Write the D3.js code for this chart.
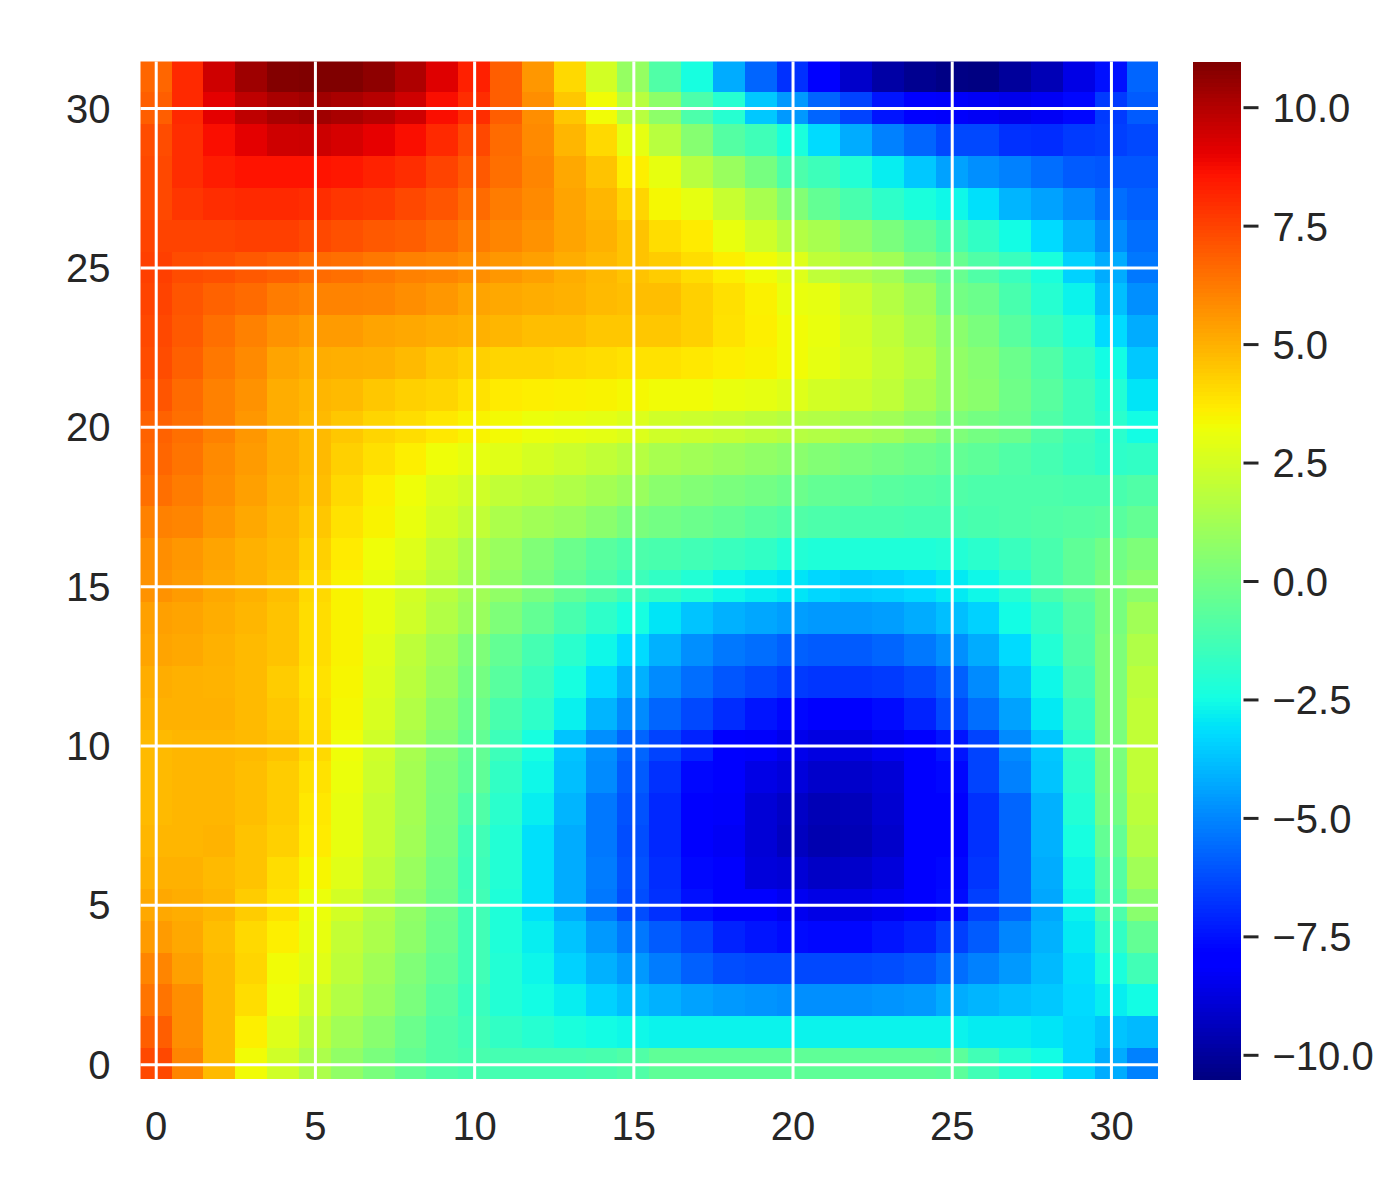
<!DOCTYPE html>
<html>
<head>
<meta charset="utf-8">
<script src="https://cdn.jsdelivr.net/npm/d3@7"></script>
<style>
  html, body { margin: 0; padding: 0; background: #fff; }
  text { font-family: "Liberation Sans", Arial, sans-serif; }
</style>
</head>
<body>
<svg id="canvas" width="1380" height="1200"></svg>
<script>
// Values, one array per row of the matrix
const row31 = [6.7,8.1,9.5,10.4,10.9,11.0,10.95,10.7,10.1,9.2,8.3,6.9,5.6,4.1,2.5,0.9,-0.9,-2.4,-4.2,-5.7,-6.8,-8.0,-9.1,-9.8,-10.2,-10.4,-10.46,-10.0,-9.5,-8.6,-7.5,-5.7];
const row30 = [6.9,8.1,9.1,9.8,10.2,10.35,10.2,9.95,9.5,8.7,8.0,6.9,5.8,4.5,3.3,1.8,0.7,-1.0,-2.0,-3.6,-4.6,-5.7,-6.4,-7.4,-7.9,-8.2,-8.3,-8.5,-8.3,-7.7,-6.6,-5.9];
const row29 = [7.3,8.0,8.7,9.1,9.5,9.55,9.35,9.05,8.7,8.1,7.4,6.6,5.9,4.9,4.1,3.0,1.8,0.5,-0.8,-1.35,-2.3,-3.2,-4.2,-5.1,-5.7,-6.3,-6.3,-6.8,-6.9,-6.6,-6.5,-6.3];
const row28 = [7.4,8.0,8.4,8.6,8.6,8.6,8.5,8.25,8.0,7.5,7.0,6.5,6.0,5.2,4.6,3.6,3.05,1.8,1.0,0.1,-1.0,-1.4,-2.1,-2.8,-3.6,-4.4,-4.8,-5.1,-5.5,-5.9,-6.0,-6.0];
const row27 = [7.4,7.8,8.0,8.1,8.1,8.0,7.8,7.7,7.4,7.1,6.6,6.2,5.9,5.3,4.9,4.2,3.4,3.0,2.2,1.4,0.4,-0.4,-1.1,-1.8,-2.3,-2.6,-3.1,-4.0,-4.4,-4.9,-5.5,-5.8];
const row26 = [7.5,7.5,7.5,7.6,7.6,7.4,7.2,7.0,6.9,6.6,6.2,6.0,5.7,5.3,5.0,4.6,4.0,3.7,3.1,2.4,1.7,1.4,0.8,0.2,-0.4,-1.1,-1.7,-2.5,-3.2,-4.1,-4.9,-5.5];
const row25 = [7.6,7.3,7.2,7.0,6.85,6.6,6.5,6.3,6.1,6.0,5.8,5.6,5.4,5.1,4.85,4.6,4.4,4.0,3.6,3.3,2.8,2.0,1.6,1.2,0.3,-0.3,-0.9,-1.5,-2.3,-3.4,-4.2,-5.3];
const row24 = [7.5,7.1,6.8,6.6,6.2,6.05,6.05,6.0,5.8,5.6,5.3,5.2,5.1,5.0,4.8,4.7,4.7,4.3,3.95,3.55,3.1,3.0,2.3,1.7,1.1,0.0,-0.2,-1.1,-2.0,-2.7,-3.8,-4.8];
const row23 = [7.4,7.0,6.5,6.1,5.7,5.5,5.5,5.3,5.2,5.1,5.0,4.9,4.7,4.7,4.5,4.5,4.5,4.3,3.9,3.6,3.3,3.1,2.5,2.0,1.4,0.6,0.2,-0.7,-1.5,-2.2,-3.2,-4.2];
const row22 = [7.3,6.85,6.3,5.9,5.3,5.1,5.05,5.0,4.8,4.5,4.3,4.2,4.2,4.1,4.0,3.9,3.9,3.75,3.6,3.5,3.3,3.0,2.6,2.15,1.7,0.8,0.5,-0.2,-0.9,-1.7,-2.5,-3.6];
const row21 = [7.1,6.6,6.1,5.7,5.1,4.9,4.8,4.5,4.3,4.2,3.9,3.7,3.6,3.55,3.5,3.4,3.3,3.3,3.1,3.0,2.8,2.5,2.3,2.0,1.4,0.8,0.6,-0.1,-0.7,-1.4,-2.1,-3.0];
const row20 = [6.8,6.5,6.1,5.6,5.1,4.8,4.5,4.2,4.0,3.75,3.5,3.35,3.15,3.05,2.95,2.75,2.4,2.3,2.15,1.95,1.75,1.65,1.4,1.2,0.8,0.3,0.05,-0.2,-0.9,-1.4,-1.9,-2.5];
const row19 = [6.7,6.4,5.9,5.5,5.1,4.8,4.3,3.95,3.6,3.25,3.0,2.85,2.55,2.3,2.05,1.75,1.4,1.2,1.0,0.8,0.6,0.4,0.2,0.0,-0.2,-0.4,-0.55,-0.9,-1.2,-1.5,-1.8,-1.7];
const row18 = [6.5,6.2,5.8,5.4,5.0,4.7,4.1,3.6,3.25,2.7,2.4,2.05,1.85,1.6,1.3,1.0,0.6,0.4,0.2,0.0,-0.2,-0.4,-0.5,-0.7,-0.8,-0.9,-1.0,-1.0,-1.0,-1.1,-1.1,-0.9];
const row17 = [6.1,6.0,5.6,5.2,4.9,4.5,3.9,3.5,3.1,2.5,2.05,1.5,1.2,1.0,0.6,0.2,0.0,-0.2,-0.4,-0.7,-0.9,-1.0,-1.1,-1.1,-1.2,-1.2,-1.1,-1.0,-0.9,-0.8,-0.7,-0.4];
const row16 = [5.8,5.6,5.3,5.0,4.8,4.3,3.7,3.25,2.8,2.05,1.4,1.0,0.35,-0.2,-0.7,-1.0,-1.1,-1.3,-1.5,-1.7,-2.1,-2.2,-2.2,-2.2,-2.2,-2.1,-1.9,-1.5,-1.1,-0.5,-0.05,0.3];
const row15 = [5.7,5.5,5.2,5.0,4.7,4.1,3.5,3.05,2.5,1.85,1.2,0.8,0.2,-0.4,-0.9,-1.4,-1.7,-2.1,-2.6,-2.8,-3.0,-3.3,-3.5,-3.4,-3.2,-2.9,-2.6,-2.0,-1.1,-0.5,0.15,0.6];
const row14 = [5.4,5.3,5.1,4.9,4.6,4.0,3.5,3.05,2.4,1.65,1.0,0.3,-0.4,-1.1,-1.8,-2.4,-3.0,-3.7,-4.1,-4.3,-4.5,-4.6,-4.6,-4.5,-4.2,-3.8,-3.4,-2.5,-1.7,-0.8,0.15,1.2];
const row13 = [5.3,5.2,5.0,4.8,4.6,4.0,3.5,2.85,1.95,1.2,0.3,-0.4,-1.2,-1.9,-2.6,-3.2,-4.1,-4.8,-5.3,-5.5,-5.8,-5.9,-5.9,-5.7,-5.3,-4.8,-4.2,-3.2,-2.1,-0.9,0.3,1.6];
const row12 = [5.1,5.0,4.95,4.8,4.4,3.9,3.45,2.75,1.85,1.0,0.05,-0.7,-1.5,-2.4,-3.2,-4.1,-4.9,-5.5,-6.0,-6.3,-6.6,-6.7,-6.7,-6.6,-6.3,-5.8,-4.9,-3.8,-2.6,-1.2,0.3,1.9];
const row11 = [5.0,5.0,5.0,4.8,4.5,4.0,3.4,2.65,1.65,0.7,-0.2,-1.1,-1.8,-2.75,-4.0,-4.9,-5.7,-6.3,-6.9,-7.4,-7.7,-7.9,-7.9,-7.6,-7.1,-6.3,-5.5,-4.4,-2.9,-1.5,0.3,2.05];
const row10 = [4.8,4.9,4.9,4.8,4.6,4.1,3.25,2.4,1.4,0.45,-0.4,-1.4,-2.4,-3.7,-4.8,-5.7,-6.4,-7.1,-7.9,-8.2,-8.5,-8.7,-8.7,-8.4,-8.1,-7.4,-6.4,-4.9,-3.6,-1.8,0.2,2.05];
const row9 = [4.8,4.9,4.9,4.7,4.4,3.9,3.15,2.3,1.3,0.3,-0.5,-1.7,-2.6,-3.8,-4.9,-5.9,-6.8,-7.7,-8.0,-8.6,-8.8,-9.1,-9.1,-8.9,-8.0,-7.7,-6.4,-5.1,-3.7,-1.9,0.15,2.05];
const row8 = [4.8,4.9,4.9,4.7,4.4,3.75,3.05,2.15,1.3,0.25,-0.9,-1.9,-2.8,-4.0,-5.3,-6.1,-7.0,-7.9,-8.2,-8.9,-9.2,-9.5,-9.4,-9.0,-8.1,-7.9,-6.8,-5.7,-4.1,-2.1,0.0,1.9];
const row7 = [4.9,4.9,4.95,4.6,4.3,3.7,3.05,2.15,1.2,0.2,-1.3,-2.1,-3.1,-4.2,-5.3,-6.2,-7.0,-7.9,-8.3,-8.9,-9.3,-9.6,-9.5,-9.1,-8.1,-7.9,-6.8,-5.7,-4.1,-2.4,-0.4,1.65];
const row6 = [5.0,5.0,4.8,4.6,4.0,3.45,2.85,1.95,1.0,0.0,-1.4,-2.1,-3.1,-4.2,-5.2,-6.1,-6.9,-7.7,-8.0,-8.8,-8.9,-9.2,-9.1,-8.8,-8.0,-7.7,-6.7,-5.7,-4.2,-2.6,-0.8,1.2];
const row5 = [5.2,5.1,4.9,4.4,3.9,3.15,2.5,1.65,0.8,-0.1,-1.3,-2.2,-3.1,-4.2,-5.3,-6.2,-6.8,-7.5,-8.0,-8.1,-8.4,-8.6,-8.6,-8.4,-8.1,-7.6,-6.5,-5.7,-4.3,-2.7,-1.0,0.6];
const row4 = [5.5,5.2,4.7,4.1,3.6,3.05,2.1,1.5,0.7,-0.2,-1.3,-2.2,-2.8,-3.7,-4.6,-5.3,-5.9,-6.4,-7.1,-7.4,-7.6,-7.7,-7.7,-7.4,-7.1,-6.5,-5.9,-5.0,-4.1,-2.9,-1.7,-0.4];
const row3 = [6.0,5.4,4.8,4.2,3.3,2.85,1.95,1.2,0.35,-0.4,-1.3,-2.1,-2.65,-3.4,-4.1,-4.6,-5.2,-5.8,-6.2,-6.3,-6.3,-6.3,-6.3,-6.2,-6.0,-5.5,-5.1,-4.6,-3.9,-3.1,-2.3,-1.3];
const row2 = [6.4,5.8,4.8,4.0,3.2,2.4,1.65,1.0,0.2,-0.7,-1.5,-2.1,-2.5,-2.8,-3.4,-3.8,-4.1,-4.4,-4.6,-4.7,-4.8,-4.8,-4.8,-4.7,-4.6,-4.2,-4.0,-3.8,-3.6,-3.2,-2.8,-2.5];
const row1 = [6.9,5.8,4.8,3.6,2.8,1.95,1.2,0.55,-0.2,-0.9,-1.3,-1.7,-2.0,-2.3,-2.5,-2.6,-2.7,-2.7,-2.7,-2.7,-2.7,-2.7,-2.7,-2.7,-2.7,-2.7,-2.85,-2.85,-3.0,-3.3,-3.7,-3.9];
const row0 = [7.4,6.0,4.8,3.3,2.4,1.5,0.8,0.2,-0.4,-0.9,-1.1,-1.2,-1.2,-1.2,-1.1,-0.9,-0.5,-0.5,-0.5,-0.5,-0.5,-0.5,-0.5,-0.5,-0.5,-0.6,-1.3,-2.0,-2.5,-3.3,-4.2,-5.1];

const matrix = [row0,row1,row2,row3,row4,row5,row6,row7,row8,row9,row10,row11,row12,row13,row14,row15,
                row16,row17,row18,row19,row20,row21,row22,row23,row24,row25,row26,row27,row28,row29,row30,row31];

const axisTicks = [0, 5, 10, 15, 20, 25, 30];
const colorTicks = [-10, -7.5, -5, -2.5, 0, 2.5, 5, 7.5, 10];
const colorMin = -10.5, colorMax = 10.96;

const svg = d3.select("#canvas");
const inkColor = "#262626";
const labelSize = 40;

// Plot box. The scales run a little past it, the outer cells get clipped like in the original
const plotLeft = 140.5, plotRight = 1158, plotTop = 61.5, plotBottom = 1079;
const x = d3.scaleLinear().domain([-0.5, 31.5]).range([139.8, 1158.7]);
const y = d3.scaleLinear().domain([-0.5, 31.5]).range([1080.1, 60.3]);

// matplotlib jet, channel by channel
const jetR = d3.scaleLinear().domain([0, 0.35, 0.66, 0.89, 1]).range([0, 0, 1, 1, 0.5]);
const jetG = d3.scaleLinear().domain([0, 0.125, 0.375, 0.64, 0.91, 1]).range([0, 0, 1, 1, 0, 0]);
const jetB = d3.scaleLinear().domain([0, 0.11, 0.34, 0.65, 1]).range([0.5, 1, 1, 0, 0]);
const norm = d3.scaleLinear().domain([colorMin, colorMax]).range([0, 1]).clamp(true);
function jet(v) {
  const t = norm(v);
  return d3.rgb(jetR(t) * 255, jetG(t) * 255, jetB(t) * 255).formatRgb();
}

svg.append("clipPath").attr("id", "plotClip")
  .append("rect")
  .attr("x", plotLeft).attr("y", plotTop)
  .attr("width", plotRight - plotLeft).attr("height", plotBottom - plotTop);

// --- Heatmap cells ---
const cells = matrix.flatMap((row, j) => row.map((v, i) => ({ i, j, v })));
svg.append("g")
  .attr("clip-path", "url(#plotClip)")
  .selectAll("rect")
  .data(cells)
  .enter()
  .append("rect")
  .attr("x", d => x(d.i - 0.5))
  .attr("y", d => y(d.j + 0.5))
  .attr("width", d => x(d.i + 0.5) - x(d.i - 0.5))
  .attr("height", d => y(d.j - 0.5) - y(d.j + 0.5))
  .attr("fill", d => jet(d.v))
  .attr("shape-rendering", "crispEdges");

// --- Axes, the ticks double as the white grid ---
const xAxis = d3.axisBottom(x).tickValues(axisTicks).tickFormat(d3.format("d")).tickSizeOuter(0).tickSizeInner(plotTop - plotBottom).tickPadding(33);
const yAxis = d3.axisLeft(y).tickValues(axisTicks).tickFormat(d3.format("d")).tickSizeOuter(0).tickSizeInner(plotLeft - plotRight).tickPadding(30);

const gx = svg.append("g").attr("transform", `translate(0,${plotBottom})`).call(xAxis);
const gy = svg.append("g").attr("transform", `translate(${plotLeft},0)`).call(yAxis);

[gx, gy].forEach(g => {
  g.select(".domain").remove();
  g.selectAll("line").attr("stroke", "#fff").attr("stroke-width", 3);
  g.selectAll("text").attr("font-size", labelSize).attr("fill", inkColor)
    .style("font-family", "'Liberation Sans', Arial, sans-serif");
});
gy.selectAll("text").attr("dy", "0.35em");

// --- Colorbar ---
const barX = 1193, barW = 47.5, barTop = 61.7, barBottom = 1078.5;
const cScale = d3.scaleLinear().domain([colorMin, colorMax]).range([barBottom, barTop]);
const barSteps = d3.range(256).map(k => k / 256);
svg.append("g")
  .selectAll("rect")
  .data(barSteps)
  .enter()
  .append("rect")
  .attr("x", barX)
  .attr("y", d => cScale(colorMin + (d + 1 / 256) * (colorMax - colorMin)))
  .attr("width", barW)
  .attr("height", (barBottom - barTop) / 256 + 1)
  .attr("fill", d => jet(colorMin + (d + 0.5 / 256) * (colorMax - colorMin)))
  .attr("shape-rendering", "crispEdges");

const cAxis = d3.axisRight(cScale).tickValues(colorTicks).tickFormat(d3.format(".1f")).tickSizeOuter(0).tickSize(15).tickPadding(14);
const gc = svg.append("g").attr("transform", `translate(${barX + barW + 3},0)`).call(cAxis);
gc.select(".domain").remove();
gc.selectAll("line").attr("stroke", inkColor).attr("stroke-width", 3);
gc.selectAll("text").attr("font-size", labelSize).attr("fill", inkColor).attr("dy", "0.36em")
  .style("font-family", "'Liberation Sans', Arial, sans-serif");
</script>
</body>
</html>
